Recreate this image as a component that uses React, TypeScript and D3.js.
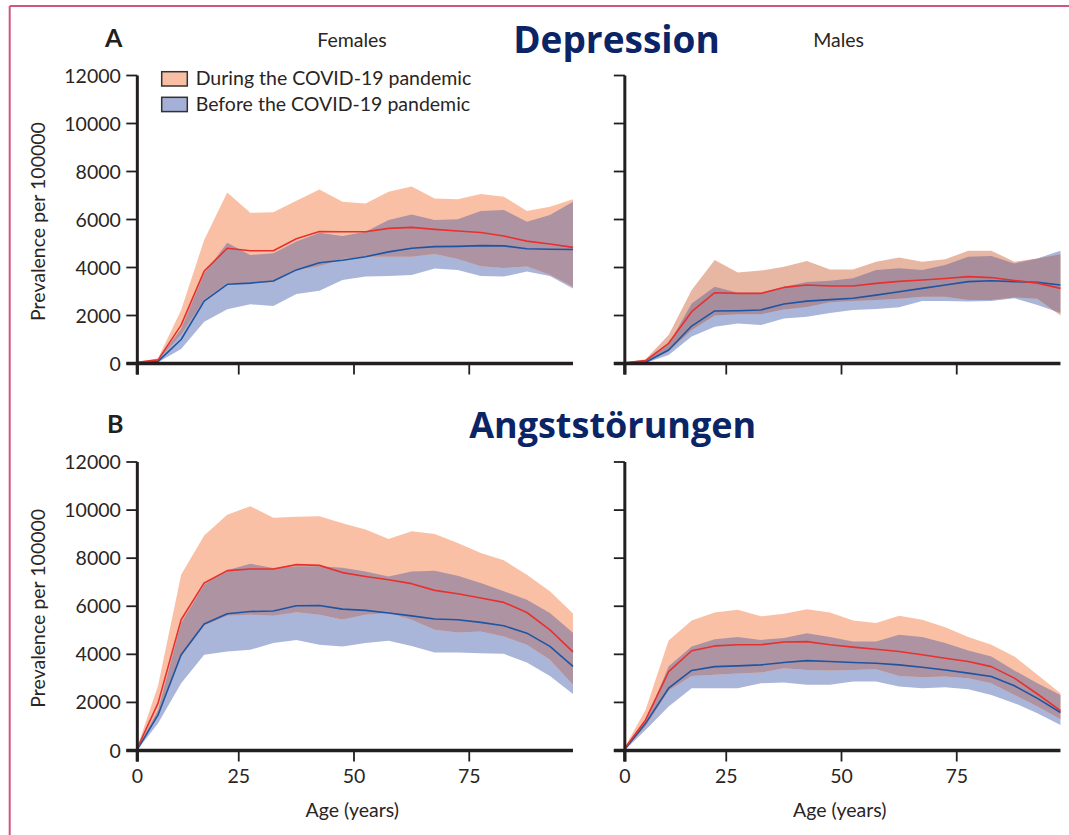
import React from 'react';
import * as d3 from 'd3';

// ---------- data ----------
const AGES = [3, 7.5, 12.5, 17.5, 22.5, 27.5, 32.5, 37.5, 42.5, 47.5, 52.5, 57.5, 62.5, 67.5, 72.5, 77.5, 82.5, 87.5, 92.5, 97.5];
const X_TICKS = [0, 25, 50, 75];
const Y_TICKS = [0, 2000, 4000, 6000, 8000, 10000, 12000];

// A: Depression, females
const depFemDuring = [50, 150, 1600, 3850, 4800, 4700, 4700, 5200, 5500, 5490, 5490, 5630, 5670, 5590, 5520, 5460, 5310, 5100, 4980, 4840];
const depFemDuringLo = [20, 120, 1200, 2650, 3350, 3350, 3400, 3900, 4050, 4350, 4450, 4450, 4450, 4560, 4350, 4050, 3980, 4040, 3700, 3200];
const depFemDuringHi = [60, 215, 2230, 5150, 7120, 6280, 6300, 6780, 7250, 6740, 6670, 7160, 7370, 6880, 6840, 7060, 6950, 6350, 6530, 6840];
const depFemBefore = [20, 90, 1000, 2600, 3300, 3350, 3440, 3900, 4200, 4300, 4450, 4650, 4800, 4870, 4880, 4910, 4900, 4780, 4760, 4750];
const depFemBeforeLo = [10, 50, 600, 1740, 2260, 2470, 2400, 2900, 3030, 3480, 3620, 3650, 3690, 3960, 3900, 3650, 3620, 3830, 3650, 3130];
const depFemBeforeHi = [30, 170, 1450, 3750, 5030, 4520, 4590, 5080, 5450, 5310, 5490, 5980, 6210, 5980, 6010, 6350, 6400, 5910, 6190, 6740];

// A: Depression, males
const depMalDuring = [30, 120, 840, 2160, 2950, 2920, 2920, 3170, 3270, 3230, 3230, 3340, 3420, 3480, 3540, 3620, 3580, 3460, 3350, 3130];
const depMalDuringLo = [10, 40, 500, 1400, 2000, 2050, 2050, 2250, 2350, 2550, 2600, 2650, 2700, 2780, 2780, 2650, 2650, 2750, 2700, 2000];
const depMalDuringHi = [40, 175, 1190, 3060, 4310, 3790, 3870, 4030, 4270, 3920, 3920, 4240, 4420, 4240, 4340, 4700, 4700, 4240, 4380, 4550];
const depMalBefore = [10, 50, 560, 1560, 2190, 2200, 2230, 2480, 2600, 2660, 2720, 2850, 2990, 3130, 3270, 3410, 3450, 3410, 3380, 3270];
const depMalBeforeLo = [5, 20, 350, 1120, 1530, 1670, 1600, 1880, 1950, 2100, 2230, 2270, 2340, 2600, 2600, 2580, 2600, 2720, 2440, 2100];
const depMalBeforeHi = [15, 120, 800, 2500, 3200, 2950, 2950, 3200, 3400, 3450, 3550, 3900, 3970, 3900, 4100, 4450, 4480, 4170, 4380, 4700];

// B: Anxiety disorders, females
const anxFemDuring = [100, 1970, 5440, 6970, 7480, 7550, 7550, 7730, 7700, 7400, 7240, 7100, 6940, 6660, 6520, 6340, 6160, 5740, 5020, 4100];
const anxFemDuringLo = [60, 1500, 3900, 5200, 5600, 5650, 5600, 5750, 5650, 5450, 5650, 5720, 5440, 5020, 4910, 4950, 4740, 4400, 3770, 2730];
const anxFemDuringHi = [150, 2700, 7310, 8940, 9810, 10160, 9680, 9720, 9740, 9450, 9190, 8800, 9120, 9010, 8630, 8220, 7910, 7310, 6620, 5700];
const anxFemBefore = [50, 1480, 3980, 5260, 5690, 5780, 5800, 6020, 6030, 5880, 5830, 5720, 5600, 5470, 5440, 5330, 5190, 4880, 4330, 3500];
const anxFemBeforeLo = [20, 1130, 2800, 3980, 4120, 4190, 4470, 4600, 4400, 4330, 4470, 4560, 4350, 4080, 4080, 4050, 4020, 3660, 3100, 2350];
const anxFemBeforeHi = [80, 1700, 5300, 6900, 7500, 7770, 7590, 7660, 7660, 7600, 7450, 7240, 7450, 7480, 7270, 6970, 6620, 6270, 5720, 4900];

// B: Anxiety disorders, males
const anxMalDuring = [90, 1270, 3280, 4150, 4350, 4400, 4400, 4510, 4530, 4400, 4300, 4210, 4120, 3980, 3840, 3700, 3490, 3010, 2350, 1660];
const anxMalDuringLo = [30, 1000, 2500, 3100, 3150, 3200, 3240, 3420, 3350, 3330, 3350, 3380, 3100, 3050, 3080, 3010, 2800, 2310, 1830, 1300];
const anxMalDuringHi = [150, 1690, 4580, 5410, 5740, 5850, 5580, 5690, 5880, 5740, 5410, 5300, 5600, 5440, 5130, 4720, 4400, 3910, 3150, 2380];
const anxMalBefore = [50, 1130, 2590, 3330, 3490, 3520, 3560, 3660, 3740, 3700, 3660, 3630, 3560, 3460, 3350, 3220, 3080, 2690, 2170, 1580];
const anxMalBeforeLo = [20, 850, 1830, 2590, 2590, 2590, 2800, 2830, 2730, 2730, 2870, 2870, 2660, 2590, 2630, 2550, 2310, 1970, 1550, 1060];
const anxMalBeforeHi = [70, 1200, 3500, 4330, 4630, 4720, 4600, 4680, 4880, 4720, 4530, 4530, 4810, 4720, 4470, 4160, 3910, 3330, 2800, 2310];

const LEGEND_LABELS = ['During the COVID-19 pandemic', 'Before the COVID-19 pandemic'];

// ---------- styles / layout ----------
const FONT = "Lato, 'Open Sans', 'DejaVu Sans', sans-serif";
const TITLE_FONT = "'Open Sans', Lato, sans-serif";
const TEXT = '#2a2523';
const AXIS = '#231f20';
const NAVY = '#0b2466';
const RED = '#e8302e';
const BLUE_LINE = '#1d55a3';

const COLORS_STD = { orange: '#f9c0a5', blue: '#a9b5d9', mix: '#ae94a3' };
const COLORS_DARK = { orange: '#e8b7a3', blue: '#a9b5d9', mix: '#a88e9d' };

type Panel = {
  id: string;
  x0: number; yTop: number; yBot: number;
  during: number[]; duringLo: number[]; duringHi: number[];
  before: number[]; beforeLo: number[]; beforeHi: number[];
  yLabels: boolean; xLabels: boolean;
  colors: { orange: string; blue: string; mix: string };
};

const PANELS: Panel[] = [
  { id: 'dF', x0: 123.5, yTop: 75.5, yBot: 363.5, during: depFemDuring, duringLo: depFemDuringLo, duringHi: depFemDuringHi, before: depFemBefore, beforeLo: depFemBeforeLo, beforeHi: depFemBeforeHi, yLabels: true, xLabels: false, colors: COLORS_STD },
  { id: 'dM', x0: 611, yTop: 75.5, yBot: 363.5, during: depMalDuring, duringLo: depMalDuringLo, duringHi: depMalDuringHi, before: depMalBefore, beforeLo: depMalBeforeLo, beforeHi: depMalBeforeHi, yLabels: false, xLabels: false, colors: COLORS_DARK },
  { id: 'aF', x0: 123.5, yTop: 462, yBot: 750.5, during: anxFemDuring, duringLo: anxFemDuringLo, duringHi: anxFemDuringHi, before: anxFemBefore, beforeLo: anxFemBeforeLo, beforeHi: anxFemBeforeHi, yLabels: true, xLabels: true, colors: COLORS_STD },
  { id: 'aM', x0: 611, yTop: 462, yBot: 750.5, during: anxMalDuring, duringLo: anxMalDuringLo, duringHi: anxMalDuringHi, before: anxMalBefore, beforeLo: anxMalBeforeLo, beforeHi: anxMalBeforeHi, yLabels: false, xLabels: true, colors: COLORS_STD },
];

const TICK = 11;

function PanelView({ p }: { p: Panel }) {
  const x = d3.scaleLinear().domain([0, 100]).range([p.x0, p.x0 + 461]);
  const y = d3.scaleLinear().domain([0, 12000]).range([p.yBot, p.yTop]);
  const xa = x(AGES[0]);
  const xe = x(AGES[AGES.length - 1]);
  const y0 = y(0);

  const band = (lo: number[], hi: number[]) =>
    d3.area<number>().x((_, i) => x(AGES[i])).y0((_, i) => y(lo[i])).y1((_, i) => y(hi[i]))(AGES) || '';
  const line = (v: number[]) => d3.line<number>().x((_, i) => x(AGES[i])).y((_, i) => y(v[i]))(AGES) || '';

  const duringBand = band(p.duringLo, p.duringHi);
  const beforeBand = band(p.beforeLo, p.beforeHi);
  const clipId = `clip-${p.id}`;

  return (
    <g>
      <defs>
        <clipPath id={clipId}>
          <path d={duringBand} />
        </clipPath>
      </defs>
      <path d={beforeBand} fill={p.colors.blue} />
      <path d={duringBand} fill={p.colors.orange} />
      <path d={beforeBand} fill={p.colors.mix} clipPath={`url(#${clipId})`} />
      <path d={line(p.before)} fill="none" stroke={BLUE_LINE} strokeWidth={1.6} strokeLinejoin="round" />
      <path d={line(p.during)} fill="none" stroke={RED} strokeWidth={1.6} strokeLinejoin="round" />

      {/* y axis */}
      <line x1={xa} x2={xa} y1={y(12000)} y2={y0 + TICK} stroke={AXIS} strokeWidth={3} />
      {Y_TICKS.map((v) => (
        <g key={v}>
          <line x1={xa - TICK} x2={xa} y1={y(v)} y2={y(v)} stroke={AXIS} strokeWidth={1.8} />
          {p.yLabels && (
            <text x={xa - 16.5} y={y(v)} dy="0.36em" textAnchor="end" fontFamily={FONT} fontSize={19.5} fill={TEXT}>
              {d3.format('d')(v)}
            </text>
          )}
        </g>
      ))}
      {/* x axis */}
      <line x1={xa - TICK} x2={xe} y1={y0} y2={y0} stroke={AXIS} strokeWidth={3.5} />
      {X_TICKS.map((v) => {
        const px = x(Math.max(v, AGES[0]));
        return (
          <g key={v}>
            <line x1={px} x2={px} y1={y0} y2={y0 + TICK} stroke={AXIS} strokeWidth={v === 0 ? 3 : 1.8} />
            {p.xLabels && (
              <text x={px} y={y0 + 32.5} textAnchor="middle" fontFamily={FONT} fontSize={19.5} fill={TEXT}>
                {v}
              </text>
            )}
          </g>
        );
      })}
      {p.xLabels && (
        <text x={(x(0) + xe) / 2 + 4} y={816.5} textAnchor="middle" fontFamily={FONT} fontSize={19.5} fill={TEXT}>
          Age (years)
        </text>
      )}
      {p.yLabels && (
        <text transform={`translate(45, ${(p.yTop + p.yBot) / 2 + 2}) rotate(-90)`} textAnchor="middle" fontFamily={FONT} fontSize={19.5} fill={TEXT}>
          Prevalence per 100000
        </text>
      )}
    </g>
  );
}

export default function App() {
  return (
    <svg width={1069} height={835} viewBox="0 0 1069 835" style={{ position: 'absolute', left: 0, top: 0, display: 'block', background: '#fff' }}>
      <rect x={0} y={0} width={1069} height={835} fill="#fff" />
      {/* frame */}
      <line x1={9.7} x2={1069} y1={6} y2={6} stroke="#d05582" strokeWidth={2} />
      <line x1={9.7} x2={9.7} y1={6} y2={835} stroke="#d05582" strokeWidth={2} />

      {PANELS.map((p) => (
        <PanelView key={p.id} p={p} />
      ))}

      {/* panel letters & headings */}
      <text x={105} y={47.3} fontFamily={FONT} fontWeight={700} fontSize={25} fill={AXIS}>A</text>
      <text x={107} y={433} fontFamily={FONT} fontWeight={700} fontSize={25} fill={AXIS}>B</text>
      <text x={352} y={47.3} textAnchor="middle" fontFamily={FONT} fontSize={19.5} fill={TEXT}>Females</text>
      <text x={838.6} y={47.3} textAnchor="middle" fontFamily={FONT} fontSize={19.5} fill={TEXT}>Males</text>
      <text x={616.5} y={53.3} textAnchor="middle" fontFamily={TITLE_FONT} fontWeight={700} fontSize={37} fill={NAVY}>Depression</text>
      <text x={612.7} y={438.3} textAnchor="middle" fontFamily={TITLE_FONT} fontWeight={700} fontSize={36} fill={NAVY}>Angststörungen</text>

      {/* legend */}
      <rect x={161.7} y={71.7} width={25.6} height={14.3} fill="#f9bfa4" stroke="#333" strokeWidth={1.5} />
      <rect x={161.7} y={97.3} width={25.6} height={14.3} fill="#a4b0d7" stroke="#333" strokeWidth={1.5} />
      <text x={195.7} y={85} fontFamily={FONT} fontSize={19.5} fill={TEXT}>{LEGEND_LABELS[0]}</text>
      <text x={195.7} y={110.7} fontFamily={FONT} fontSize={19.5} fill={TEXT}>{LEGEND_LABELS[1]}</text>
    </svg>
  );
}
